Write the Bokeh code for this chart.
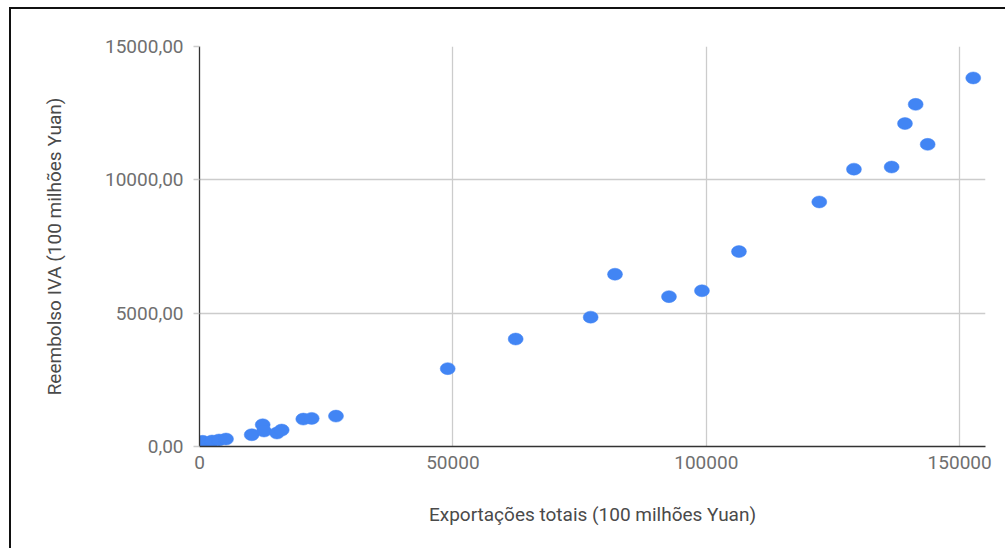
from bokeh.plotting import figure
from bokeh.models import Range1d, FixedTicker, ColumnDataSource
from bokeh.embed import file_html
from bokeh.resources import INLINE

# Data
exports = [630, 2470, 3850, 5230, 10300, 12470, 12730, 15290, 16220, 20480, 22140, 26930,
           48980, 62390, 77190, 81990, 92640, 99150, 106450, 122300, 129140, 136580,
           139210, 141320, 143690, 152680]
vat_refund = [194, 205, 243, 280, 441, 815, 580, 505, 617, 1028, 1054, 1140,
              2920, 4030, 4850, 6460, 5620, 5840, 7310, 9170, 10400, 10480,
              12110, 12830, 11330, 13820]

x_ticks = [0, 50000, 100000, 150000]
x_tick_labels = ["0", "50000", "100000", "150000"]
y_ticks = [0, 5000, 10000, 15000]
y_tick_labels = ["0,00", "5000,00", "10000,00", "15000,00"]

x_title = "Exportações totais (100 milhões Yuan)"
y_title = "Reembolso IVA (100 milhões Yuan)"

FONT = "Roboto"

p = figure(width=996, height=541, output_backend="svg", toolbar_location=None,
           x_range=Range1d(0, 155100), y_range=Range1d(0, 15000),
           min_border_left=188, min_border_right=22, min_border_top=37, min_border_bottom=104)
p.margin = (7, 0, 0, 9)
p.styles = {"border-top": "2px solid #111111", "border-left": "2px solid #111111"}
p.outline_line_color = None
p.background_fill_color = "white"
p.border_fill_color = "white"

src = ColumnDataSource(dict(x=exports, y=vat_refund))
p.ellipse(x="x", y="y", width=15, height=12, width_units="screen", height_units="screen",
          source=src, fill_color="#4285F4", line_color="#4285F4", line_width=0.5)

# grids
p.xgrid.ticker = FixedTicker(ticks=x_ticks)
p.ygrid.ticker = FixedTicker(ticks=y_ticks)
for g in (p.xgrid, p.ygrid):
    g.grid_line_color = "#cccccc"
    g.grid_line_width = 1.3

# x axis
xa = p.xaxis[0]
xa.ticker = FixedTicker(ticks=x_ticks)
xa.major_label_overrides = {t: l for t, l in zip(x_ticks, x_tick_labels)}
xa.axis_line_color = "#333333"
xa.axis_line_width = 1.6
xa.major_tick_line_color = None
xa.minor_tick_line_color = None
xa.major_tick_out = 0
xa.major_tick_in = 0
xa.major_label_standoff = 9
xa.major_label_text_font = FONT
xa.major_label_text_font_size = "19px"
xa.major_label_text_color = "#6f6f6f"
xa.axis_label = x_title
xa.axis_label_text_font = FONT
xa.axis_label_text_font_size = "19px"
xa.axis_label_text_font_style = "normal"
xa.axis_label_text_color = "#4a4a4a"
xa.axis_label_standoff = 31

# y axis
ya = p.yaxis[0]
ya.ticker = FixedTicker(ticks=y_ticks)
ya.major_label_overrides = {t: l for t, l in zip(y_ticks, y_tick_labels)}
ya.axis_line_color = "#333333"
ya.axis_line_width = 1.3
ya.major_tick_line_color = "#cccccc"
ya.major_tick_line_width = 1.3
ya.minor_tick_line_color = None
ya.major_tick_out = 6
ya.major_tick_in = 0
ya.major_label_standoff = 10
ya.major_label_text_font = FONT
ya.major_label_text_font_size = "19px"
ya.major_label_text_color = "#6f6f6f"
ya.axis_label = y_title
ya.axis_label_text_font = FONT
ya.axis_label_text_font_size = "19px"
ya.axis_label_text_font_style = "normal"
ya.axis_label_text_color = "#4a4a4a"
ya.axis_label_standoff = 36

open("out.html", "w").write(file_html(p, INLINE))
